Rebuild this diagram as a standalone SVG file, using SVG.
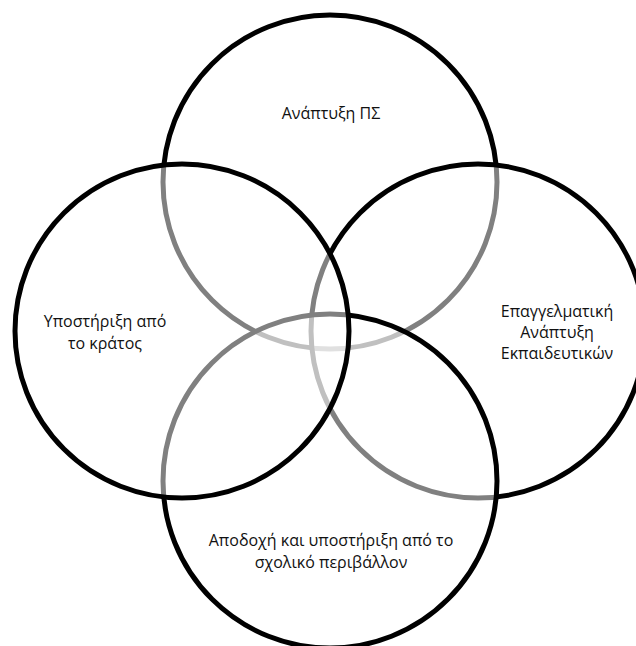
<svg xmlns="http://www.w3.org/2000/svg" width="636" height="646" viewBox="0 0 636 646">
<style>
.c{fill:#fff;fill-opacity:0.5;stroke:#000;stroke-width:5}
.t{font-family:"Open Sans","Noto Sans","DejaVu Sans",sans-serif;font-size:16px;fill:#111;text-anchor:middle}
</style>
<rect width="636" height="646" fill="#fff"/>
<g id="top">
<circle class="c" cx="330" cy="182" r="167"/>
<text class="t" x="331" y="119">Ανάπτυξη ΠΣ</text>
</g>
<g id="right">
<circle class="c" cx="478" cy="331" r="167"/>
<text class="t" x="557" y="317">Επαγγελματική</text>
<text class="t" x="557" y="338">Ανάπτυξη</text>
<text class="t" x="557" y="359">Εκπαιδευτικών</text>
</g>
<g id="bottom">
<circle class="c" cx="330" cy="481" r="167"/>
<text class="t" x="331" y="546">Αποδοχή και υποστήριξη από το</text>
<text class="t" x="331" y="568">σχολικό περιβάλλον</text>
</g>
<g id="left">
<circle class="c" cx="182" cy="331" r="167"/>
<text class="t" x="105" y="327">Υποστήριξη από</text>
<text class="t" x="105" y="349">το κράτος</text>
</g>
</svg>
